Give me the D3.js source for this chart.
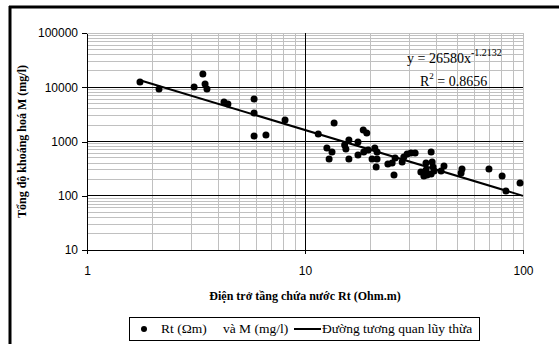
<!DOCTYPE html>
<html>
<head>
<meta charset="utf-8">
<script src="https://cdn.jsdelivr.net/npm/d3@7"></script>
<style>
  body { margin: 0; background: #fff; }
  svg { display: block; font-family: "Liberation Serif", "Times New Roman", serif; }
  .axis path, .axis line { stroke: #000; shape-rendering: crispEdges; }
  .axis text { font-size: 12px; fill: #000; }
</style>
</head>
<body>
<div id="chart"></div>
<script>
// Rt (Ohm.m) and M (mg/l)
var rtValues = [1.75, 2.14, 3.10, 3.40, 3.48, 3.55, 4.25, 4.43, 5.84, 5.84,
                5.84, 6.62, 8.10, 11.5, 13.6, 12.6, 13.3, 12.9, 15.2, 15.9,
                15.4, 15.9, 17.5, 17.5, 18.5, 19.2, 18.6, 19.5, 20.9, 21.4,
                20.3, 21.4, 21.2, 24.0, 25.1, 25.6, 25.9, 27.9, 28.4, 29.4,
                30.6, 32.0, 37.9, 35.9, 34.0, 35.1, 35.9, 38.3, 38.7, 37.9,
                39.1, 36.3, 43.4, 42.1, 52.5, 52.0, 69.8, 80.2, 96.9, 83.5];
var mValues = [12500, 9300, 10100, 17500, 11500, 9300, 5350, 4910, 6070, 3350,
               1260, 1320, 2490, 1375, 2190, 760, 640, 476, 862, 1066,
               728, 476, 979, 564, 1630, 1435, 640, 697, 760, 640,
               476, 476, 339, 385, 402, 241, 497, 419, 518, 589,
               614, 614, 640, 402, 274, 231, 299, 419, 339, 252,
               286, 241, 353, 286, 311, 262, 311, 231, 172, 122];

// power trend line end points
var trendX = [1.75, 100];
var trendY = [13500, 99.6];

var xTicks = [1, 10, 100];
var yTicks = [10, 100, 1000, 10000, 100000];

var equationText = "y = 26580x";
var equationExp = "-1.2132";
var r2Text = "= 0.8656";

var W = 559, H = 344;
var svg = d3.select("#chart").append("svg")
  .attr("width", W).attr("height", H);

// outer frame (left + top only visible)
svg.append("line").attr("x1", 10).attr("x2", 10).attr("y1", 6).attr("y2", H)
  .attr("stroke", "#000").attr("stroke-width", 3);
svg.append("line").attr("x1", 9).attr("x2", W).attr("y1", 7).attr("y2", 7)
  .attr("stroke", "#000").attr("stroke-width", 3);

var x = d3.scaleLog().domain([1, 100]).range([87, 523]);
var y = d3.scaleLog().domain([10, 100000]).range([250, 33]);

var grid = svg.append("g").attr("shape-rendering", "crispEdges");

// minor grid
grid.selectAll(".vx").data(x.ticks()).enter().append("line")
  .attr("x1", d => x(d)).attr("x2", d => x(d))
  .attr("y1", y(100000)).attr("y2", y(10))
  .attr("stroke", "#c0c0c0");
grid.selectAll(".hy").data(y.ticks()).enter().append("line")
  .attr("x1", x(1)).attr("x2", x(100))
  .attr("y1", d => y(d)).attr("y2", d => y(d))
  .attr("stroke", "#c0c0c0");

// major grid
grid.selectAll(".vmaj").data([10]).enter().append("line")
  .attr("x1", d => x(d)).attr("x2", d => x(d))
  .attr("y1", y(100000)).attr("y2", y(10))
  .attr("stroke", "#000");
grid.selectAll(".hmaj").data([100, 1000, 10000]).enter().append("line")
  .attr("x1", x(1)).attr("x2", x(100))
  .attr("y1", d => y(d)).attr("y2", d => y(d))
  .attr("stroke", "#000");

// axes
svg.append("g").attr("class", "x axis")
  .attr("transform", "translate(0," + y(10) + ")")
  .call(d3.axisBottom(x).tickValues(xTicks).tickFormat(d3.format("d"))
    .tickSize(4).tickSizeOuter(0).tickPadding(12));

svg.append("g").attr("class", "y axis")
  .attr("transform", "translate(" + x(1) + ",0)")
  .call(d3.axisLeft(y).tickValues(yTicks).tickFormat(d3.format("d"))
    .tickSize(5).tickSizeOuter(0).tickPadding(4));

// trend line
var line = d3.line().x(d => x(d[0])).y(d => y(d[1]));
svg.append("path")
  .attr("d", line(trendX.map((v, i) => [v, trendY[i]])))
  .attr("fill", "none").attr("stroke", "#000").attr("stroke-width", 2);

// points
svg.selectAll(".pt").data(rtValues).enter().append("circle")
  .attr("cx", d => x(d))
  .attr("cy", (d, i) => y(mValues[i]))
  .attr("r", 3.5).attr("fill", "#000");

// equation
var eq = svg.append("text").attr("x", 407).attr("y", 63)
  .attr("font-size", 14).attr("fill", "#000");
eq.append("tspan").text(equationText);
eq.append("tspan").attr("dy", -7).attr("font-size", 10).text(equationExp);

var r2 = svg.append("text").attr("x", 420).attr("y", 86)
  .attr("font-size", 14).attr("fill", "#000");
r2.append("tspan").text("R");
r2.append("tspan").attr("dy", -7).attr("font-size", 9).text("2");
r2.append("tspan").attr("dy", 7).text(" " + r2Text);

// axis titles
svg.append("text").attr("x", 305).attr("y", 300)
  .attr("text-anchor", "middle").attr("font-size", 12).attr("font-weight", "bold")
  .text("Điện trở tầng chứa nước Rt (Ohm.m)");

svg.append("text")
  .attr("transform", "translate(26," + ((y(10) + y(100000)) / 2) + ") rotate(-90)")
  .attr("text-anchor", "middle").attr("font-size", 12).attr("font-weight", "bold")
  .text("Tổng độ khoáng hoá M (mg/l)");

// legend
var lg = svg.append("g");
lg.append("rect").attr("x", 129.5).attr("y", 317.5).attr("width", 350).attr("height", 23)
  .attr("fill", "#fff").attr("stroke", "#000");
lg.append("circle").attr("cx", 144).attr("cy", 329).attr("r", 3).attr("fill", "#000");
lg.append("text").attr("x", 161).attr("y", 333).attr("font-size", 13.5).text("Rt  (Ωm)");
lg.append("text").attr("x", 223).attr("y", 333).attr("font-size", 13.5).text("và M (mg/l)");
lg.append("line").attr("x1", 294).attr("x2", 321).attr("y1", 329).attr("y2", 329)
  .attr("stroke", "#000").attr("stroke-width", 2);
lg.append("text").attr("x", 322).attr("y", 333).attr("font-size", 13.5).text("Đường tương quan lũy thừa");
</script>
</body>
</html>
